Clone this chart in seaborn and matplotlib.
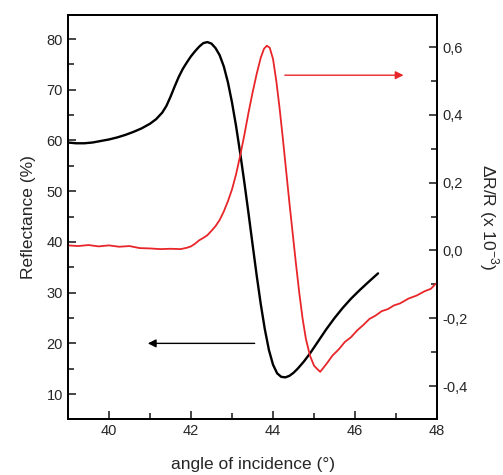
import numpy as np
import pandas as pd
import matplotlib
matplotlib.use("Agg")
import matplotlib.pyplot as plt
from matplotlib.ticker import MultipleLocator, FuncFormatter
import seaborn as sns

# reflectance curve (left axis)
angle_refl = [39.0, 39.2, 39.4, 39.6, 39.8, 40.0, 40.2, 40.4, 40.6, 40.8, 41.0, 41.15, 41.3, 41.4,
              41.5, 41.6, 41.7, 41.8, 41.9, 42.0, 42.1, 42.2, 42.3, 42.4, 42.5, 42.6, 42.7, 42.8,
              42.9, 43.0, 43.1, 43.2, 43.3, 43.4, 43.5, 43.6, 43.7, 43.8, 43.9, 44.0, 44.1, 44.2,
              44.3, 44.4, 44.5, 44.6, 44.75, 44.9, 45.1, 45.3, 45.5, 45.7, 45.9, 46.1, 46.3, 46.45,
              46.56]
reflectance = [59.6, 59.45, 59.45, 59.6, 59.9, 60.2, 60.6, 61.1, 61.7, 62.4, 63.3, 64.2, 65.5, 66.8,
               68.6, 70.6, 72.5, 74.1, 75.4, 76.6, 77.6, 78.5, 79.2, 79.4, 79.1, 78.2, 76.8, 74.6,
               71.5, 67.5, 62.8, 57.5, 51.8, 45.8, 39.6, 33.5, 27.8, 22.8, 18.7, 15.8, 14.1, 13.4,
               13.3, 13.6, 14.2, 15.0, 16.4, 18.0, 20.4, 22.8, 25.0, 27.0, 28.8, 30.4, 31.9, 33.0,
               33.8]

# dR/R curve (right axis, x 10^-3)
angle_dr = [39.0, 39.25, 39.5, 39.75, 40.0, 40.25, 40.5, 40.75, 41.0, 41.25, 41.5, 41.75, 41.9,
            42.0, 42.1, 42.2, 42.3, 42.4, 42.5, 42.6, 42.7, 42.8, 42.9, 43.0, 43.1, 43.2, 43.3,
            43.4, 43.5, 43.6, 43.7, 43.78, 43.85, 43.92, 44.0, 44.08, 44.16, 44.24, 44.32, 44.4,
            44.48, 44.56, 44.64, 44.72, 44.8, 44.9, 45.0, 45.08, 45.15, 45.3, 45.45, 45.6, 45.75,
            45.9, 46.05, 46.2, 46.35, 46.5, 46.65, 46.8, 46.95, 47.1, 47.3, 47.5, 47.7, 47.85,
            47.95, 48.0]
delta_r = [0.015, 0.013, 0.016, 0.012, 0.015, 0.011, 0.013, 0.007, 0.006, 0.004, 0.005, 0.004, 0.008,
           0.012, 0.02, 0.03, 0.037, 0.045, 0.058, 0.072, 0.09, 0.115, 0.145, 0.18, 0.225, 0.28, 0.34,
           0.405, 0.465, 0.52, 0.568, 0.595, 0.604, 0.598, 0.565, 0.5, 0.42, 0.33, 0.235, 0.14,
           0.05, -0.04, -0.125, -0.2, -0.26, -0.31, -0.34, -0.35, -0.358, -0.335, -0.31, -0.292, -0.27,
           -0.256, -0.236, -0.22, -0.202, -0.192, -0.179, -0.173, -0.162, -0.156, -0.142, -0.133, -0.12,
           -0.113, -0.1, -0.096]

df_refl = pd.DataFrame({'angle': angle_refl, 'R': reflectance})
df_dr = pd.DataFrame({'angle': angle_dr, 'dR': delta_r})

sns.set_style("ticks")
plt.rcParams['font.family'] = ['Liberation Sans', 'DejaVu Sans']
plt.rcParams['xtick.direction'] = 'in'
plt.rcParams['ytick.direction'] = 'in'

fig = plt.figure(figsize=(5.03, 4.75), dpi=100)
ax = fig.add_axes([0.135, 0.118, 0.734, 0.850])
ax2 = ax.twinx()

sns.lineplot(data=df_refl, x='angle', y='R', ax=ax, color='black', lw=1.7)
sns.lineplot(data=df_dr, x='angle', y='dR', ax=ax2, color='#e8262a', lw=1.3)

ax.set_xlim(39, 48)
ax.set_ylim(5.1, 84.7)
ax2.set_ylim(-0.497, 0.694)

ax.xaxis.set_major_locator(MultipleLocator(2))
ax.xaxis.set_minor_locator(MultipleLocator(1))
ax.yaxis.set_major_locator(MultipleLocator(10))
ax.yaxis.set_minor_locator(MultipleLocator(5))
ax2.yaxis.set_major_locator(MultipleLocator(0.2))
ax2.yaxis.set_minor_locator(MultipleLocator(0.1))
ax2.yaxis.set_major_formatter(FuncFormatter(lambda v, p: f"{v:.1f}".replace('.', ',')))

ax.tick_params(axis='both', which='major', length=6, width=1.2, labelsize=10.5, top=False)
ax.tick_params(axis='both', which='minor', length=4, width=1.2, top=False)
ax.tick_params(axis='y', which='both', right=False)
ax2.tick_params(axis='y', which='major', length=6, width=1.2, labelsize=10.5)
ax2.tick_params(axis='y', which='minor', length=4, width=1.2)

for a in (ax, ax2):
    for s in a.spines.values():
        s.set_linewidth(1.3)
        s.set_color('black')

ax.set_xlabel('angle of incidence (°)', fontsize=12.5, labelpad=14)
ax.set_ylabel('Reflectance (%)', fontsize=12.5, labelpad=8)
ax2.set_ylabel(r'ΔR/R (x 10$^{\mathregular{-3}}$)', fontsize=12.5, rotation=270, labelpad=24)

# direction arrows
ax.annotate('', xy=(40.88, 20), xytext=(43.62, 20),
            arrowprops=dict(arrowstyle='-|>', color='black', lw=1.0, mutation_scale=12))
ax2.annotate('', xy=(47.25, 0.517), xytext=(44.22, 0.517),
             arrowprops=dict(arrowstyle='-|>', color='#e8262a', lw=1.0, mutation_scale=12))

fig.savefig('out.png', dpi=100)
